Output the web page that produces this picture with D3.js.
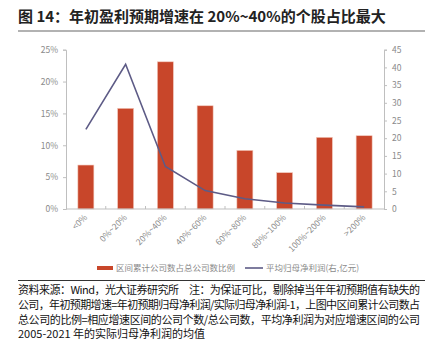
<!DOCTYPE html>
<html>
<head>
<meta charset="utf-8">
<script src="https://cdn.jsdelivr.net/npm/d3@7/dist/d3.min.js"></script>
<style>
  html, body { margin: 0; padding: 0; background: #fff; }
  svg { display: block; }
  text { font-family: "Noto Sans CJK SC", "Noto Sans", sans-serif; }
</style>
</head>
<body>
<script>
// Growth-rate buckets of initial earnings forecasts
const categories = ["<0%", "0%~20%", "20%~40%", "40%~60%", "60%~80%", "80%~100%", "100%~200%", ">200%"];
// Share of companies in each bucket (%)
const shareValues = [6.9, 15.8, 23.1, 16.2, 9.2, 5.7, 11.25, 11.5];
// Average net profit attributable to parent (right axis, 100m CNY)
const profitValues = [22.5, 40.9, 12.0, 5.2, 2.9, 1.7, 1.1, 0.6];
const leftTicks = [0, 5, 10, 15, 20, 25];
const rightTicks = [0, 5, 10, 15, 20, 25, 30, 35, 40, 45];

const seriesNames = ["区间累计公司数占总公司数比例", "平均归母净利润(右,亿元)"];
const titleText = "图 14：年初盈利预期增速在 20%~40%的个股占比最大";
const noteLines = [
  "资料来源：Wind，光大证券研究所　注：为保证可比，剔除掉当年年初预期值有缺失的",
  "公司，年初预期增速=年初预期归母净利润/实际归母净利润-1，上图中区间累计公司数占",
  "总公司的比例=相应增速区间的公司个数/总公司数，平均净利润为对应增速区间的公司",
  "2005-2021 年的实际归母净利润的均值"
];

const W = 433, H = 346;
const barColor = "#c8462a";
const lineColor = "#5d5b86";
const axisColor = "#bfbfbf";
const labelColor = "#8a8a8a";

const svg = d3.select("body").append("svg").attr("width", W).attr("height", H);

// Title and rule below it
svg.append("text").attr("x", 18).attr("y", 22)
  .attr("font-size", 15).attr("font-weight", 700).attr("fill", "#222")
  .text(titleText);
svg.append("line").attr("x1", 18).attr("x2", 425).attr("y1", 31).attr("y2", 31)
  .attr("stroke", "#666").attr("stroke-width", 1.2);

const plot = { left: 66, right: 384, top: 49.7, bottom: 209 };

const x = d3.scaleBand().domain(categories).range([plot.left, plot.right]).paddingInner(0.6).paddingOuter(0.3);
const xOuter = d3.scaleBand().domain(categories).range([plot.left, plot.right]);
const yL = d3.scaleLinear().domain([0, 25]).range([plot.bottom, plot.top]);
const yR = d3.scaleLinear().domain([0, 45]).range([plot.bottom, plot.top]);

// Bars
svg.append("g").selectAll("rect").data(shareValues).join("rect")
  .attr("x", (d, i) => xOuter(categories[i]) + xOuter.bandwidth() / 2 - 8)
  .attr("width", 16)
  .attr("y", d => yL(d))
  .attr("height", d => yL(0) - yL(d))
  .attr("fill", barColor)
  .attr("stroke", "#f2c9bc").attr("stroke-width", 0.6);

// Left axis
const gL = svg.append("g").attr("transform", `translate(${plot.left},0)`)
  .call(d3.axisLeft(yL).tickValues(leftTicks).tickFormat(d => d + "%").tickSize(3).tickPadding(5));
// Right axis
const gR = svg.append("g").attr("transform", `translate(${plot.right},0)`)
  .call(d3.axisRight(yR).tickValues(rightTicks).tickSize(3).tickPadding(5));
[gL, gR].forEach(g => {
  g.select(".domain").attr("stroke", axisColor);
  g.selectAll(".tick line").attr("stroke", axisColor);
  g.selectAll(".tick text").attr("fill", labelColor).attr("font-size", 8.5)
    .attr("font-family", "'Noto Sans CJK SC', sans-serif");
});

// Bottom axis: baseline with inward ticks at band boundaries
svg.append("line").attr("x1", plot.left).attr("x2", plot.right)
  .attr("y1", plot.bottom).attr("y2", plot.bottom).attr("stroke", axisColor);
svg.append("g").selectAll("line").data(categories.slice(1)).join("line")
  .attr("x1", d => xOuter(d)).attr("x2", d => xOuter(d))
  .attr("y1", plot.bottom).attr("y2", plot.bottom - 3)
  .attr("stroke", axisColor);
svg.append("g").selectAll("text").data(categories).join("text")
  .attr("transform", d => `translate(${xOuter(d) + xOuter.bandwidth() / 2 + 2},${plot.bottom + 9}) rotate(-45)`)
  .attr("text-anchor", "end")
  .attr("font-size", 8.5).attr("fill", labelColor)
  .text(d => d);

// Line series on the right axis
const line = d3.line()
  .x((d, i) => xOuter(categories[i]) + xOuter.bandwidth() / 2)
  .y(d => yR(d));
svg.append("path").datum(profitValues)
  .attr("d", line).attr("fill", "none")
  .attr("stroke", lineColor).attr("stroke-width", 1.6);

// Legend
const lg = svg.append("g").attr("transform", "translate(0,268)");
lg.append("rect").attr("x", 97).attr("y", -2).attr("width", 16).attr("height", 4).attr("fill", barColor);
lg.append("text").attr("x", 116).attr("y", 3).attr("font-size", 8.5).attr("fill", labelColor).text(seriesNames[0]);
lg.append("line").attr("x1", 245).attr("x2", 263).attr("y1", 0).attr("y2", 0)
  .attr("stroke", lineColor).attr("stroke-width", 1.6);
lg.append("text").attr("x", 266).attr("y", 3).attr("font-size", 8.5).attr("fill", labelColor).text(seriesNames[1]);

// Rule above the notes
svg.append("line").attr("x1", 18).attr("x2", 425).attr("y1", 280.5).attr("y2", 280.5)
  .attr("stroke", "#333").attr("stroke-width", 1);

// Source and notes
const noteBaselines = [294, 309, 323.5, 338];
noteLines.forEach((t, i) => {
  const el = svg.append("text").attr("x", 18).attr("y", noteBaselines[i])
    .attr("font-size", 11).attr("fill", "#111").text(t);
  if (i < 3) el.attr("textLength", 402).attr("lengthAdjust", "spacing");
});
</script>
</body>
</html>
